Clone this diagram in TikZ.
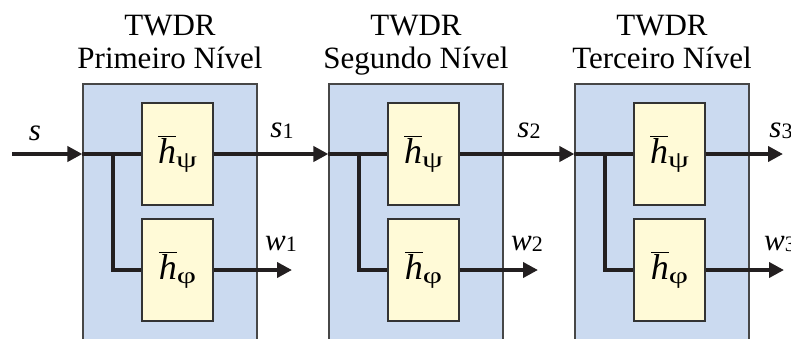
\documentclass[tikz,border=0pt]{standalone}
\usepackage{fontspec}
\setmainfont{Liberation Serif}
\usetikzlibrary{arrows.meta}
\definecolor{stageblue}{RGB}{203,218,240}
\definecolor{filteryellow}{RGB}{255,250,215}
\definecolor{inkgray}{RGB}{35,31,32}
% filter label: italic h with a bar, followed by a wide Greek subscript
\newcommand{\hbarlbl}[1]{{\fontsize{36}{36}\selectfont$\overline{\hbox{\itshape h}}$\raisebox{-4pt}{\fontsize{23}{23}\selectfont\scalebox{1.45}[1]{#1}}}}
\newcommand{\sigl}[2]{{\fontsize{31}{31}\selectfont\itshape #1}\raisebox{-1pt}{\fontsize{22}{22}\selectfont #2}}
\begin{document}
\begin{tikzpicture}[x=1pt,y=-1pt,
  stagebox/.style={draw=black!72,fill=stageblue,line width=1.2pt,minimum width=174pt,minimum height=276pt,inner sep=0pt},
  filterbox/.style={draw=black!80,fill=filteryellow,line width=1.2pt,minimum width=71pt,minimum height=102pt,inner sep=0pt},
  sig/.style={draw=inkgray,line width=4pt},
  arr/.style={sig,-{Triangle[length=15pt,width=15pt]}},
  ttl/.style={font=\fontsize{31}{31}\selectfont,anchor=base,inner sep=0pt},
  lbl/.style={inner sep=0pt}]
\path[use as bounding box] (0,0) rectangle (791,338);
\clip (0,0) rectangle (791,338);

% three decomposition stages
\foreach \i/\lv in {1/Primeiro Nível,2/Segundo Nível,3/Terceiro Nível}{
  \pgfmathsetmacro{\dx}{246*(\i-1)}
  \node[stagebox] (b\i) at (170+\dx,222) {};
  \node[ttl] (t\i) at (170+\dx,35) {TWDR};
  \node[ttl] (n\i) at (170+\dx,68) {\lv};
  \coordinate (j\i) at (113+\dx,154);
  \coordinate (w\i) at (292+\dx,270);
}
\coordinate (s3) at (783,154);

% filter pairs (drawn after the blocks, before the lines)
\foreach \i in {1,2,3}{
  \pgfmathsetmacro{\dx}{246*(\i-1)}
  \draw[sig] (b\i.west |- 0,154) -- (177.5+\dx-35.5,154);
  \draw[sig] (j\i) |- (177.5+\dx-35.5,270);
  \node[filterbox] (p\i) at (177.5+\dx,154) {\hbarlbl{ψ}};
  \node[filterbox] (q\i) at (177.5+\dx,270) {\hbarlbl{φ}};
  \draw[arr] (q\i.east) -- (w\i);
}

% input and cascaded outputs
\coordinate (in) at (12,154);
\draw[arr] (in) -- (b1.west |- p1);
\draw[arr] (p1.east) -- (b2.west |- p1);
\draw[arr] (p2.east) -- (b3.west |- p2);
\draw[arr] (p3.east) -- (s3);

% signal labels
\node[lbl] (ls) at (35,134) {\sigl{s}{}};
\node[lbl] (ls1) at (282,131) {\sigl{s}{1}};
\node[lbl] (ls2) at (529,131) {\sigl{s}{2}};
\node[lbl] (ls3) at (781,131) {\sigl{s}{3}};
\node[lbl] (lw1) at (281,244) {\sigl{w}{1}};
\node[lbl] (lw2) at (527,244) {\sigl{w}{2}};
\node[lbl] (lw3) at (780,244) {\sigl{w}{3}};
\end{tikzpicture}
\end{document}
